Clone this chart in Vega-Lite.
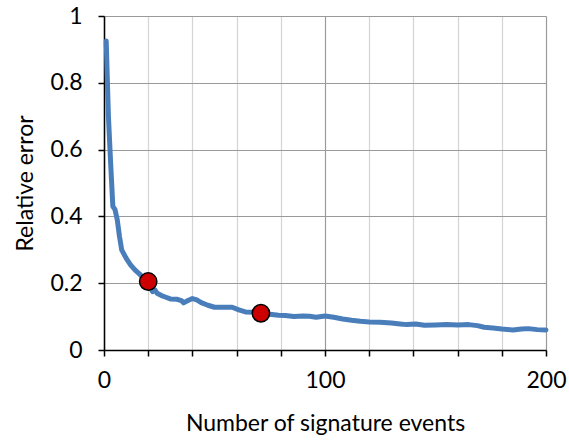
{
  "$schema": "https://vega.github.io/schema/vega-lite/v6.json",
  "width": 442,
  "height": 334,
  "autosize": "none",
  "padding": {"left": 104, "top": 16, "right": 23, "bottom": 92},
  "background": "white",
  "config": {
    "view": {"stroke": null},
    "font": "Lato",
    "axis": {
      "labelFont": "Lato",
      "titleFont": "Lato",
      "labelFontSize": 23,
      "titleFontSize": 23,
      "titleFontWeight": "normal",
      "labelColor": "black",
      "titleColor": "black",
      "domainColor": "black",
      "domainWidth": 1.5,
      "tickColor": "black",
      "tickWidth": 1.5,
      "labelOverlap": false
    }
  },
  "datasets": {
    "curve": [
      {"n": 1, "err": 0.925}, {"n": 2, "err": 0.7}, {"n": 3, "err": 0.56}, {"n": 4, "err": 0.43},
      {"n": 5, "err": 0.42}, {"n": 6, "err": 0.39}, {"n": 7, "err": 0.34}, {"n": 8, "err": 0.3},
      {"n": 10, "err": 0.275}, {"n": 12, "err": 0.255}, {"n": 14, "err": 0.24}, {"n": 16, "err": 0.228},
      {"n": 18, "err": 0.215}, {"n": 20, "err": 0.2}, {"n": 21, "err": 0.185}, {"n": 22, "err": 0.175},
      {"n": 23, "err": 0.18}, {"n": 24, "err": 0.17}, {"n": 26, "err": 0.163}, {"n": 28, "err": 0.158},
      {"n": 30, "err": 0.153}, {"n": 33, "err": 0.152}, {"n": 35, "err": 0.148}, {"n": 36, "err": 0.141},
      {"n": 38, "err": 0.148}, {"n": 40, "err": 0.154}, {"n": 42, "err": 0.15}, {"n": 44, "err": 0.142},
      {"n": 47, "err": 0.134}, {"n": 50, "err": 0.128}, {"n": 55, "err": 0.128}, {"n": 58, "err": 0.128},
      {"n": 61, "err": 0.12}, {"n": 64, "err": 0.114}, {"n": 68, "err": 0.113}, {"n": 71, "err": 0.11},
      {"n": 75, "err": 0.107}, {"n": 79, "err": 0.104}, {"n": 82, "err": 0.103}, {"n": 86, "err": 0.1},
      {"n": 90, "err": 0.102}, {"n": 93, "err": 0.101}, {"n": 96, "err": 0.098}, {"n": 100, "err": 0.102},
      {"n": 104, "err": 0.098}, {"n": 108, "err": 0.093}, {"n": 112, "err": 0.089}, {"n": 116, "err": 0.086},
      {"n": 120, "err": 0.084}, {"n": 125, "err": 0.083}, {"n": 130, "err": 0.081}, {"n": 134, "err": 0.078},
      {"n": 137, "err": 0.076}, {"n": 141, "err": 0.078}, {"n": 145, "err": 0.074}, {"n": 150, "err": 0.075},
      {"n": 155, "err": 0.076}, {"n": 160, "err": 0.075}, {"n": 165, "err": 0.076}, {"n": 169, "err": 0.073},
      {"n": 172, "err": 0.068}, {"n": 176, "err": 0.066}, {"n": 180, "err": 0.063}, {"n": 185, "err": 0.06},
      {"n": 189, "err": 0.063}, {"n": 192, "err": 0.064}, {"n": 196, "err": 0.061}, {"n": 200, "err": 0.06}
    ],
    "marks": [
      {"n": 20, "err": 0.205},
      {"n": 71, "err": 0.11}
    ]
  },
  "layer": [
    {
      "data": {"name": "curve"},
      "mark": {"type": "line", "color": "#4a7ebb", "strokeWidth": 5, "strokeJoin": "round", "strokeCap": "round"},
      "encoding": {
        "x": {
          "field": "n", "type": "quantitative",
          "scale": {"domain": [0, 200], "nice": false},
          "axis": {
            "title": "Number of signature events",
            "values": [0,10,20,30,40,50,60,70,80,90,100,110,120,130,140,150,160,170,180,190,200],
            "labelExpr": "round(datum.value/10) % 5 === 0 ? format(round(datum.value), 'd') : ''",
            "labelOverlap": false,
            "grid": true,
            "gridColor": {"condition": {"test": "round(datum.value/10) % 5 === 0", "value": "#9a9a9a"}, "value": "#d4d4d4"},
            "gridWidth": 1.2,
            "tickSize": 6,
            "labelPadding": 13,
            "titlePadding": 20,
            "labelFlush": false
          }
        },
        "y": {
          "field": "err", "type": "quantitative",
          "scale": {"domain": [0, 1], "nice": false},
          "axis": {
            "title": "Relative error",
            "values": [0,0.1,0.2,0.3,0.4,0.5,0.6,0.7,0.8,0.9,1],
            "labelExpr": "round(datum.value*10) % 2 === 0 ? format(datum.value, '~g') : ''",
            "labelOverlap": false,
            "grid": true,
            "gridColor": {"condition": {"test": "round(datum.value*10) % 2 === 0", "value": "#9a9a9a"}, "value": "#d4d4d4"},
            "gridWidth": 1.2,
            "tickSize": 6,
            "labelPadding": 16,
            "titlePadding": 12,
            "labelFlush": false
          }
        }
      }
    },
    {
      "data": {"name": "marks"},
      "mark": {"type": "point", "filled": true, "fill": "#cc0000", "stroke": "black", "strokeWidth": 1.5, "size": 300, "opacity": 1},
      "encoding": {
        "x": {"field": "n", "type": "quantitative"},
        "y": {"field": "err", "type": "quantitative"}
      }
    }
  ]
}
